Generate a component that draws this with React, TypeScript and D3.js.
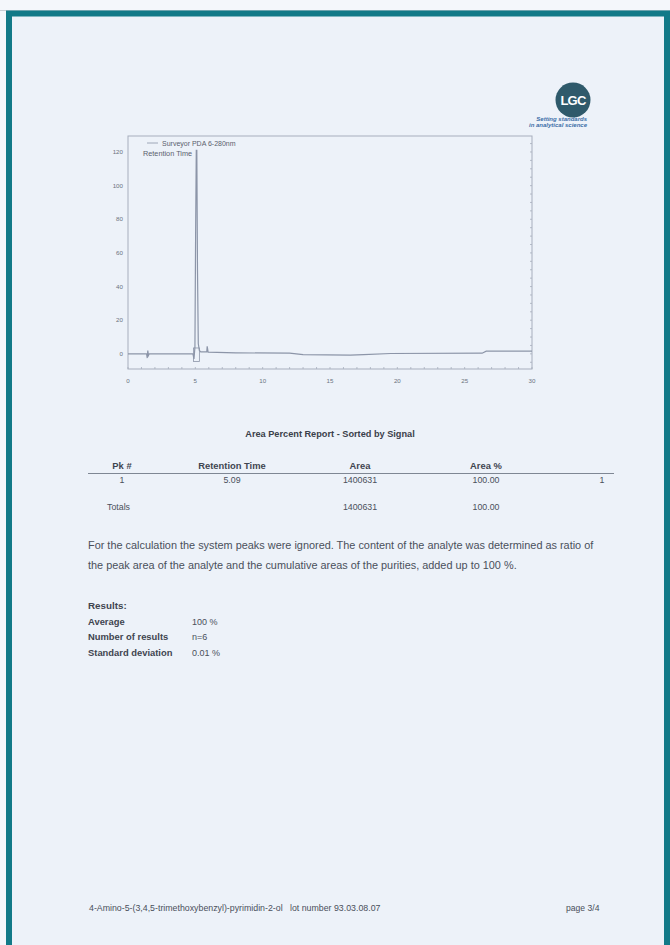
import React from "react";
import * as d3 from "d3";

// ---- Chromatogram data (retention time in min, signal) ----
const traceTime = [0, 1.38, 1.43, 1.47, 1.52, 1.58, 4.82, 4.9, 4.97, 5.02, 5.07, 5.11, 5.16, 5.22, 5.3, 5.4, 5.85, 5.88, 5.95, 8, 12, 13, 16.5, 17.5, 19.5, 26.3, 26.6, 30];
const traceValue = [0, 0, -2.5, 2, -1, 0, 0, -3, 4, 70, 121, 121, 50, 6, 2, 1.2, 1.2, 4.5, 1, 0.6, 0.4, -0.4, -0.8, -0.5, 0.2, 0.4, 1.6, 1.6];
const markTime = [4.86, 5.3];
const markValue = [-4.5, 3.5];
const xTicks = [0, 5, 10, 15, 20, 25, 30];
const yTicks = [0, 20, 40, 60, 80, 100, 120];
const xDomain = [0, 30];
const yDomain = [-9, 129.5];
const legendLabel = "Surveyor PDA 6-280nm";
const axisLabel = "Retention Time";

// ---- Report table ----
const tableHeaders = ["Pk #", "Retention Time", "Area", "Area %"];
const peakNumbers = ["1"];
const retentionTimes = ["5.09"];
const peakAreas = ["1400631"];
const areaPercents = ["100.00"];
const totalArea = "1400631";
const totalPercent = "100.00";

const resultLabels = ["Average", "Number of results", "Standard deviation"];
const resultValues = ["100 %", "n=6", "0.01 %"];

const paragraph = [
  "For the calculation the system peaks were ignored. The content of the analyte was determined as ratio of",
  "the peak area of the analyte and the cumulative areas of the purities, added up to 100 %.",
];

const FONT = "'Liberation Sans', Arial, sans-serif";
const TXT = "#4a505b";
const LINE = "#8c95a8";

export default function App() {
  const left = 128, right = 532, top = 136, bottom = 369;
  const x = d3.scaleLinear().domain(xDomain).range([left, right]);
  const y = d3.scaleLinear().domain(yDomain).range([bottom, top]);
  const pts: [number, number][] = traceTime.map((t, i) => [t, traceValue[i]]);
  const line = d3
    .line<[number, number]>()
    .x((d) => x(d[0]))
    .y((d) => y(d[1]));
  const minorX = d3.range(0, 30.01, 1);
  const minorY = d3.range(-5, 125.01, 5);

  const colX = [122, 232, 360, 486];

  return (
    <svg
      width={670}
      height={945}
      style={{ position: "absolute", left: 0, top: 0 }}
      fontFamily={FONT}
    >
      <rect x={0} y={0} width={670} height={945} fill="#f4f7fb" />
      <rect x={12} y={16} width={652} height={929} fill="#edf2f9" />
      <line x1={0} x2={670} y1={10.5} y2={10.5} stroke="#c9ced4" strokeWidth={1} />
      {/* teal frame */}
      <path d="M9,945 V13.5 H667 V945" fill="none" stroke="#127a88" strokeWidth={6} />

      {/* logo */}
      <circle cx={573} cy={100} r={17.5} fill="#2f5a6b" />
      <text x={573} y={105} textAnchor="middle" fill="#ffffff" fontSize={13} fontWeight="bold" letterSpacing={-0.8}>
        LGC
      </text>
      <text x={587} y={121} textAnchor="end" fill="#3c6fa8" fontSize={6} fontStyle="italic" fontWeight="bold">
        Setting standards
      </text>
      <text x={587} y={127} textAnchor="end" fill="#3c6fa8" fontSize={6} fontStyle="italic" fontWeight="bold">
        in analytical science
      </text>

      {/* chart frame */}
      <rect x={left} y={top} width={right - left} height={bottom - top} fill="none" stroke="#a7aebd" strokeWidth={1} />
      {minorX.map((t) => (
        <line key={"mx" + t} x1={x(t)} x2={x(t)} y1={bottom} y2={bottom - 2} stroke="#a7aebd" strokeWidth={0.8} />
      ))}
      {minorY.map((v) => (
        <line key={"my" + v} x1={right} x2={right - 2} y1={y(v)} y2={y(v)} stroke="#a7aebd" strokeWidth={0.8} />
      ))}
      {xTicks.map((t) => (
        <text key={"xt" + t} x={x(t)} y={383} textAnchor="middle" fontSize={6.2} fill="#6b7280">
          {t}
        </text>
      ))}
      {yTicks.map((v) => (
        <text key={"yt" + v} x={123} y={y(v) + 2.2} textAnchor="end" fontSize={6.2} fill="#6b7280">
          {v}
        </text>
      ))}
      {/* legend */}
      <line x1={147} x2={158} y1={143} y2={143} stroke={LINE} strokeWidth={0.8} />
      <text x={162} y={145.5} fontSize={7} fill="#5a616d">
        {legendLabel}
      </text>
      <text x={143} y={155.5} fontSize={7.3} fill="#5a616d">
        {axisLabel}
      </text>
      {/* trace */}
      <path d={line(pts) ?? ""} fill="none" stroke={LINE} strokeWidth={1.2} />
      <rect
        x={x(markTime[0])}
        y={y(markValue[1])}
        width={x(markTime[1]) - x(markTime[0])}
        height={y(markValue[0]) - y(markValue[1])}
        fill="none"
        stroke={LINE}
        strokeWidth={0.8}
      />

      {/* report */}
      <text x={330} y={437} textAnchor="middle" fontSize={9.2} fontWeight="bold" fill="#3a404a">
        Area Percent Report - Sorted by Signal
      </text>
      {tableHeaders.map((h, i) => (
        <text key={h} x={colX[i]} y={469} textAnchor="middle" fontSize={9.4} fontWeight="bold" fill="#3f4550">
          {h}
        </text>
      ))}
      <line x1={88} x2={614} y1={473.5} y2={473.5} stroke="#7f8794" strokeWidth={1.2} />
      {peakNumbers.map((p, i) => (
        <g key={"row" + p} fontSize={8.8} fill={TXT} textAnchor="middle">
          <text x={colX[0]} y={483 + i * 12}>{p}</text>
          <text x={colX[1]} y={483 + i * 12}>{retentionTimes[i]}</text>
          <text x={colX[2]} y={483 + i * 12}>{peakAreas[i]}</text>
          <text x={colX[3]} y={483 + i * 12}>{areaPercents[i]}</text>
          <text x={602} y={483 + i * 12}>{p}</text>
        </g>
      ))}
      <text x={107} y={510} fontSize={8.8} fill={TXT}>
        Totals
      </text>
      <text x={colX[2]} y={510} textAnchor="middle" fontSize={8.8} fill={TXT}>
        {totalArea}
      </text>
      <text x={colX[3]} y={510} textAnchor="middle" fontSize={8.8} fill={TXT}>
        {totalPercent}
      </text>

      {paragraph.map((p, i) => (
        <text key={"p" + i} x={88} y={549 + i * 20} fontSize={10.9} fill={TXT}>
          {p}
        </text>
      ))}

      <text x={88} y={609} fontSize={9.8} fontWeight="bold" fill="#3f4550">
        Results:
      </text>
      {resultLabels.map((r, i) => (
        <g key={r}>
          <text x={88} y={624.5 + i * 15.5} fontSize={9.4} fontWeight="bold" fill="#3f4550">
            {r}
          </text>
          <text x={192} y={624.5 + i * 15.5} fontSize={9} fill={TXT}>
            {resultValues[i]}
          </text>
        </g>
      ))}

      {/* footer */}
      <text x={89} y={911} fontSize={8.8} fill={TXT}>
        4-Amino-5-(3,4,5-trimethoxybenzyl)-pyrimidin-2-ol{"\u00a0\u00a0\u00a0"}lot number 93.03.08.07
      </text>
      <text x={566} y={911} fontSize={8.6} fill={TXT}>
        page 3/4
      </text>
    </svg>
  );
}
